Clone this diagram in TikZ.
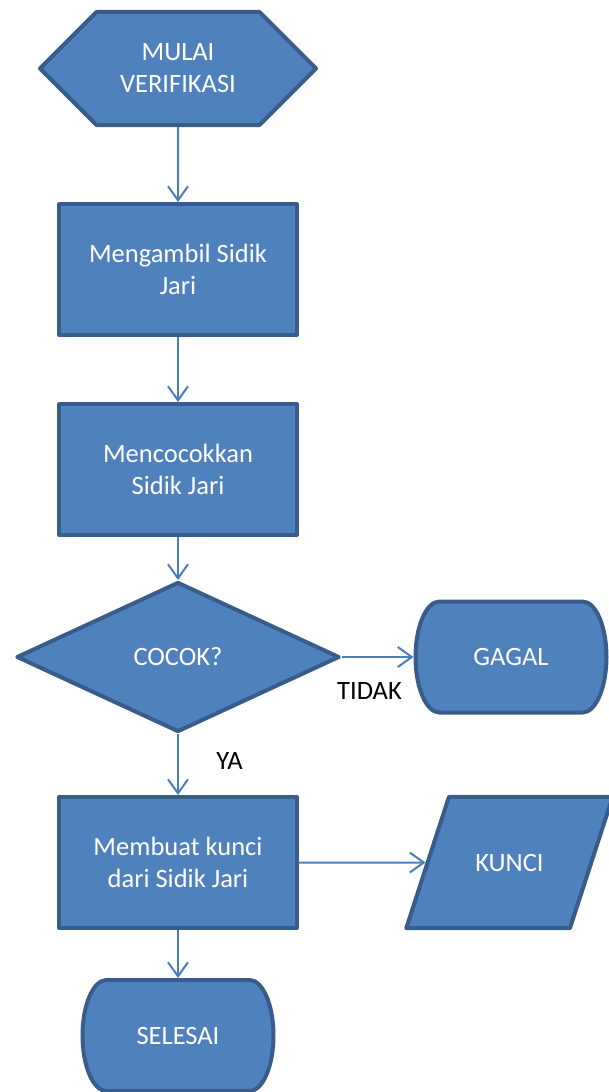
\documentclass[tikz,border=0pt]{standalone}
\usepackage{fontspec}
\setmainfont{Carlito}
\usetikzlibrary{shapes.geometric, shapes.symbols, arrows.meta, positioning}
\definecolor{boxfill}{HTML}{4F81BD}
\definecolor{boxline}{HTML}{385D8A}
\definecolor{arrline}{HTML}{4A7EBB}
\newcommand{\chartfont}{\fontsize{26.5}{32}\selectfont}

\begin{document}
\begin{tikzpicture}[
  base/.style={draw=boxline, fill=boxfill, line width=4pt, line join=round, text=white, align=center, font=\chartfont, inner sep=2pt},
  start/.style={base, signal, signal to=west and east, signal pointer angle=90, minimum width=276pt, minimum height=113pt},
  process/.style={base, rectangle, minimum width=237pt, minimum height=131pt},
  decision/.style={base, diamond, minimum width=323pt, minimum height=150pt},
  output/.style={base, trapezium, trapezium left angle=72, trapezium right angle=108, text width=121pt, inner xsep=0pt, inner ysep=57pt},
  terminal/.style={rectangle, text=white, align=center, font=\chartfont, minimum width=195pt, minimum height=115pt, outer sep=0pt,
    path picture={\path[fill=boxfill, draw=boxline, line width=4pt]
      ([shift={(26pt,-2pt)}]path picture bounding box.north west) -- ([shift={(-26pt,-2pt)}]path picture bounding box.north east)
      arc[start angle=90, end angle=-90, x radius=24pt, y radius=55.5pt]
      -- ([shift={(26pt,2pt)}]path picture bounding box.south west)
      arc[start angle=270, end angle=90, x radius=24pt, y radius=55.5pt] -- cycle;}},
  arr/.style={-{Straight Barb[length=14pt, width=20pt]}, draw=arrline, line width=2pt},
  lbl/.style={font=\chartfont, text=black}
]
  \useasboundingbox (-178pt,68.5pt) rectangle (431pt,-1023.5pt);
  \node[start] (mulai) at (0,0) {MULAI\\VERIFIKASI};
  \node[process, below=75pt of mulai] (ambil) {Mengambil Sidik\\Jari};
  \node[process, below=65pt of ambil] (cocokkan) {Mencocokkan\\Sidik Jari};
  \node[decision, below=43pt of cocokkan] (cocok) {COCOK?};
  \node[terminal, right=72pt of cocok] (gagal) {GAGAL};
  \node[process, below=61pt of cocok] (buat) {Membuat kunci\\dari Sidik Jari};
  \node[output, right=127pt of buat] (kunci) {KUNCI};
  \node[terminal, below=48pt of buat] (selesai) {SELESAI};

  \draw[arr] (mulai) -- (ambil);
  \draw[arr] (ambil) -- (cocokkan);
  \draw[arr] (cocokkan) -- (cocok);
  \draw[arr] (cocok) -- node[lbl, below=21pt, xshift=-8pt] {TIDAK} (gagal);
  \draw[arr] (cocok) -- node[lbl, right=34pt, pos=0.45] {YA} (buat);
  \draw[arr] (buat) -- (kunci);
  \draw[arr] (buat) -- (selesai);
\end{tikzpicture}
\end{document}
